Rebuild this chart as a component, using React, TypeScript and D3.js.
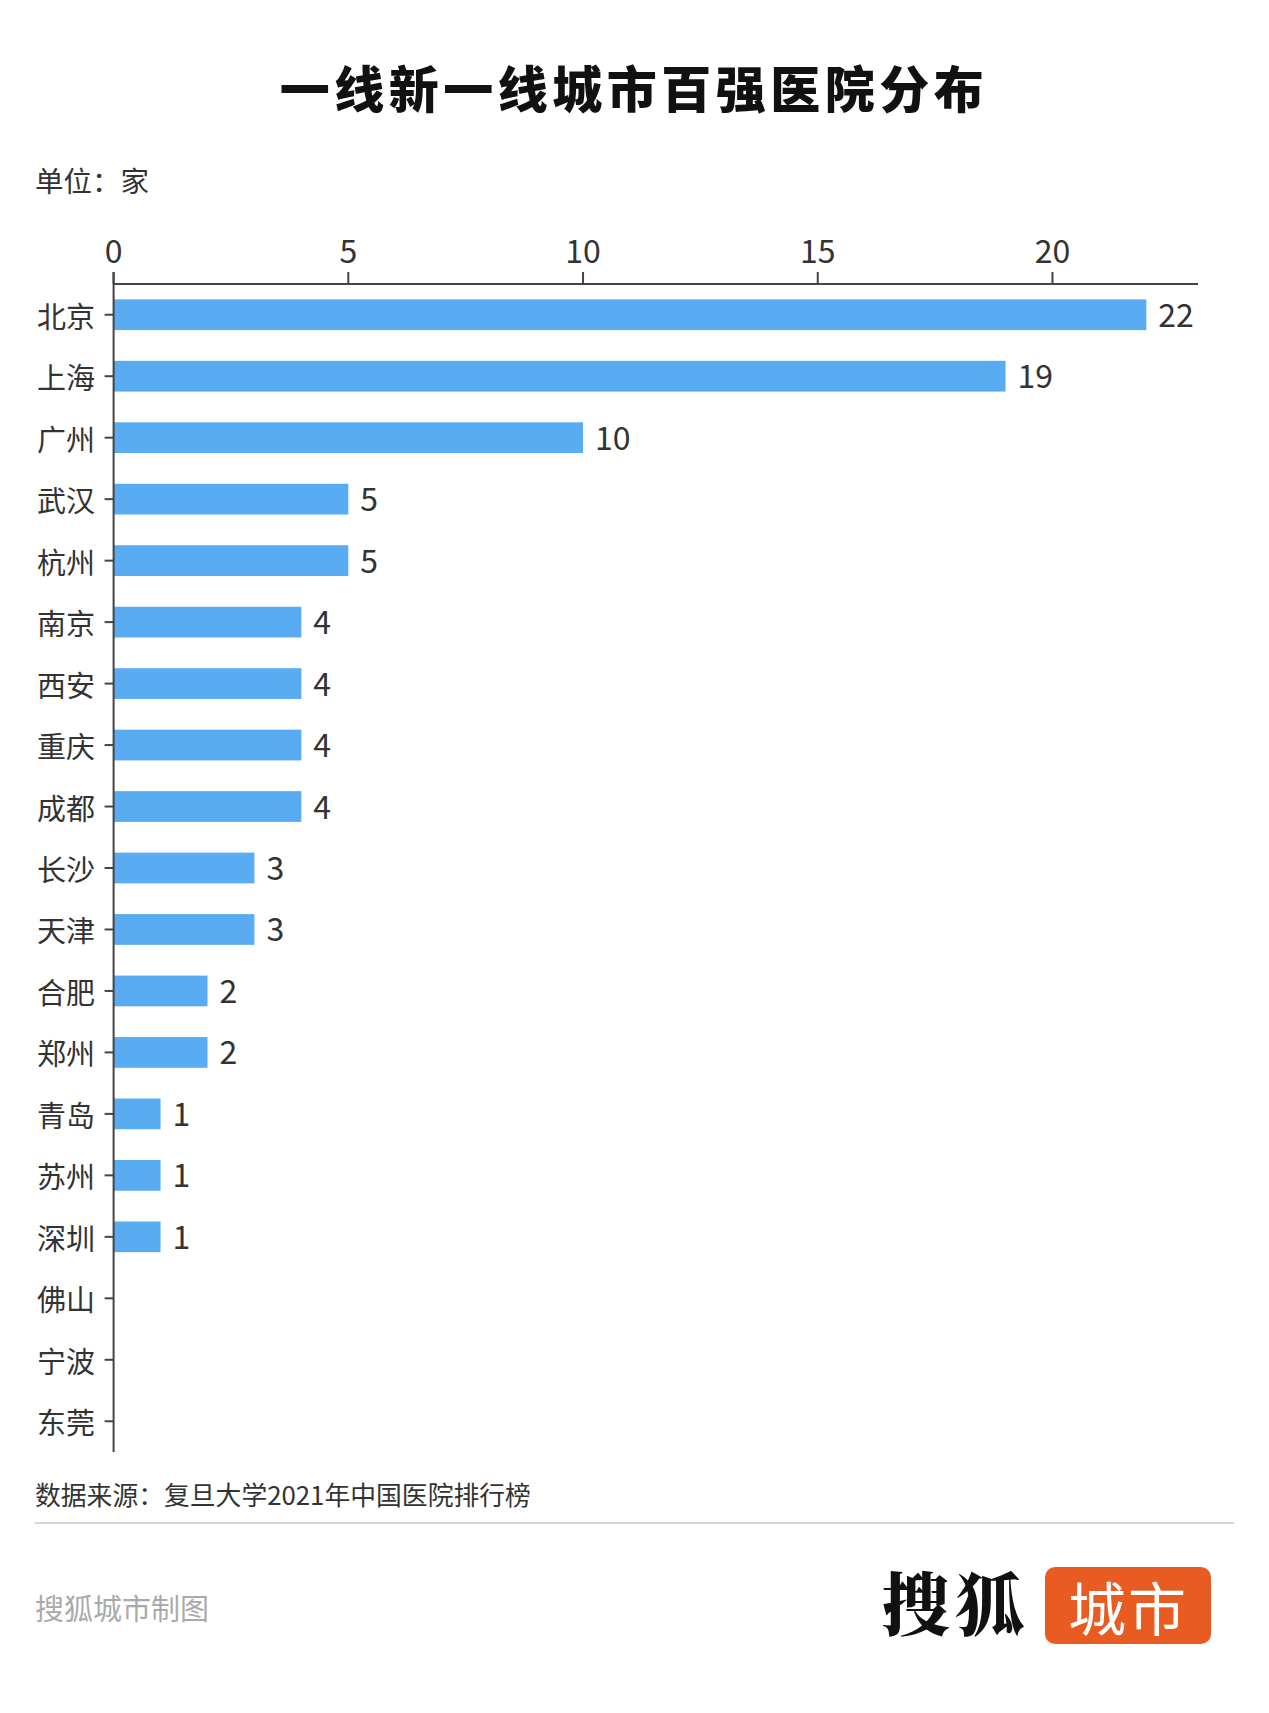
import React from "react";
import * as d3 from "d3";

const cities = ["北京", "上海", "广州", "武汉", "杭州", "南京", "西安", "重庆", "成都", "长沙", "天津", "合肥", "郑州", "青岛", "苏州", "深圳", "佛山", "宁波", "东莞"];
const counts = [22, 19, 10, 5, 5, 4, 4, 4, 4, 3, 3, 2, 2, 1, 1, 1, 0, 0, 0];
const xTicks = [0, 5, 10, 15, 20];
const titleText = "一线新一线城市百强医院分布";
const unitText = "单位：家";
const sourceText = "数据来源：复旦大学2021年中国医院排行榜";
const creditText = "搜狐城市制图";

const W = 1269;
const H = 1713;
const FONT = "'Noto Sans CJK SC', 'Noto Sans', sans-serif";
const TEXT = "#333333";
const BAR = "#59acf1";

export default function App() {
  const x = d3.scaleLinear().domain([0, 23.1]).range([113.6, 1198]);
  const y = d3.scaleBand<string>().domain(cities).range([284, 1452]).paddingInner(0.5).paddingOuter(0.25);
  const axisY = 284;
  const bottomY = 1452;

  return (
    <svg width={W} height={H} style={{ display: "block", position: "absolute", left: 0, top: 0, background: "#fff" }} fontFamily={FONT}>
      <rect x={0} y={0} width={W} height={H} fill="#ffffff" />
      <text x={634} y={108} textAnchor="middle" fontSize={50} fontWeight={900} letterSpacing={4.5} fill="#111">{titleText}</text>
      <text x={35} y={192} fontSize={28.5} fill={TEXT}>{unitText}</text>

      {/* top axis */}
      <line x1={x(0)} x2={x.range()[1]} y1={axisY} y2={axisY} stroke="#444" strokeWidth={2} />
      {xTicks.map((t) => (
        <g key={t}>
          <line x1={x(t)} x2={x(t)} y1={axisY} y2={axisY - 12} stroke="#444" strokeWidth={2} />
          <text x={x(t)} y={263} textAnchor="middle" fontSize={32} fill={TEXT}>{t}</text>
        </g>
      ))}

      {/* bars */}
      {cities.map((c, i) => {
        const yy = y(c)!;
        const cy = yy + y.bandwidth() / 2;
        const v = counts[i];
        return (
          <g key={c}>
            {v > 0 && <rect x={x(0)} y={yy} width={x(v) - x(0)} height={y.bandwidth()} fill={BAR} />}
            {v > 0 && (
              <text x={x(v) + 12} y={cy - 2} dominantBaseline="central" fontSize={32} fill={TEXT}>{v}</text>
            )}
            <line x1={x(0) - 9} x2={x(0)} y1={cy} y2={cy} stroke="#444" strokeWidth={2} />
            <text x={95} y={cy} textAnchor="end" dominantBaseline="central" fontSize={29} fill={TEXT}>{c}</text>
          </g>
        );
      })}

      {/* left axis */}
      <line x1={x(0)} x2={x(0)} y1={axisY - 12} y2={bottomY} stroke="#444" strokeWidth={2} />

      <text x={35} y={1505} fontSize={25.8} fill={TEXT}>{sourceText}</text>
      <line x1={35} x2={1234} y1={1523} y2={1523} stroke="#d6d6d6" strokeWidth={2} />
      <text x={35} y={1620} fontSize={29} fill="#aaaaaa">{creditText}</text>

      {/* logo */}
      <text x={882} y={1630} fontSize={68} fontWeight={900} letterSpacing={6} fill="#111" fontFamily="'Noto Serif CJK SC', 'Noto Sans CJK SC', serif">搜狐</text>
      <rect x={1045} y={1567} width={166} height={77} rx={10} fill="#e85c22" />
      <text x={1128} y={1606} textAnchor="middle" dominantBaseline="central" fontSize={58} fill="#fff" letterSpacing={2}>城市</text>
    </svg>
  );
}
